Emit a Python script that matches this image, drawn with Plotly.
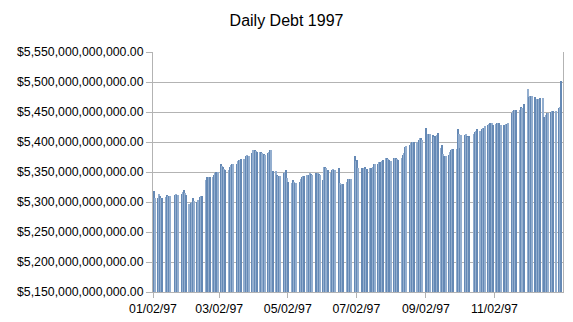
import pandas as pd
import plotly.graph_objects as go

# Daily total public debt, 1997 (billions of dollars), business days only
jan = [5318, 5307, 5307, 5314, 5310, 5307, 5307, 5309, 5312, 5310, 5310, 5310,
       5312, 5313, 5312, 5312, 5313, 5316, 5320, 5315, 5312]
feb = [5297, 5298, 5300, 5306, 5301, 5300, 5304, 5308, 5310, 5310, 5337, 5341,
       5341, 5341, 5342, 5345, 5349, 5350, 5350]
mar = [5363, 5360, 5358, 5355, 5354, 5354, 5358, 5362, 5363, 5363, 5364, 5368,
       5370, 5370, 5371, 5371, 5377, 5378, 5377, 5377, 5381]
apr = [5386, 5386, 5385, 5383, 5384, 5384, 5381, 5380, 5379, 5382, 5384, 5387,
       5386, 5352, 5352, 5345, 5343, 5344, 5344, 5348, 5350, 5353]
may = [5340, 5333, 5331, 5337, 5334, 5331, 5331, 5334, 5338, 5341, 5343, 5344,
       5345, 5345, 5348, 5347, 5345, 5348, 5349, 5347, 5345]
jun = [5337, 5358, 5358, 5356, 5354, 5349, 5353, 5355, 5354, 5354, 5356, 5331,
       5329, 5330, 5330, 5334, 5338, 5339, 5338, 5338, 5377]
jul = [5369, 5370, 5356, 5356, 5356, 5359, 5355, 5355, 5356, 5357, 5359, 5363,
       5363, 5363, 5366, 5367, 5369, 5370, 5373, 5373, 5372, 5370]
aug = [5369, 5373, 5374, 5373, 5371, 5370, 5373, 5378, 5381, 5392, 5394, 5395,
       5398, 5400, 5400, 5400, 5400, 5404, 5406, 5406, 5403]
sep = [5424, 5414, 5414, 5413, 5412, 5409, 5410, 5412, 5415, 5390, 5395, 5380,
       5376, 5377, 5379, 5383, 5387, 5388, 5388, 5388, 5421]
octo = [5413, 5390, 5412, 5412, 5413, 5410, 5409, 5410, 5414, 5417, 5419, 5421,
        5419, 5421, 5423, 5424, 5427, 5428, 5430, 5431, 5431, 5428]
nov = [5430, 5432, 5432, 5431, 5429, 5428, 5430, 5430, 5431, 5448, 5452, 5453,
       5453, 5453, 5453, 5458, 5456, 5463]
dec = [5489, 5475, 5477, 5477, 5477, 5475, 5472, 5472, 5472, 5474, 5474, 5442,
       5445, 5448, 5448, 5450, 5452, 5452, 5452, 5456, 5458, 5502]

months = [jan, feb, mar, apr, may, jun, jul, aug, sep, octo, nov, dec]

holidays = ["1997-01-20", "1997-02-17", "1997-05-26", "1997-07-04", "1997-09-01",
            "1997-10-13", "1997-11-11", "1997-11-27", "1997-12-25"]

tick_dates = ["1997-01-02", "1997-03-02", "1997-05-02", "1997-07-02",
              "1997-09-02", "1997-11-02"]
tick_labels = ["01/02/97", "03/02/97", "05/02/97", "07/02/97", "09/02/97", "11/02/97"]

days = pd.bdate_range("1997-01-02", "1997-12-31", freq="C", holidays=holidays)

x, y = [], []
for m, vals in enumerate(months, start=1):
    md = [d for d in days if d.month == m]
    for d, v in zip(md, vals):
        x.append(d)
        y.append(v * 1e9)

shades = ["#6589b5", "#93aecf"]
colors = [shades[i % 2] for i in range(len(x))]

fig = go.Figure(go.Bar(
    x=x, y=y, width=86400000, offset=0,
    marker=dict(color=colors, line=dict(width=0)),
))

grid = "#b3b3b3"
fig.update_layout(
    width=573, height=322,
    margin=dict(l=153, r=10, t=52, b=30, autoexpand=False),
    paper_bgcolor="white", plot_bgcolor="white",
    font=dict(family="Liberation Sans, Arial, sans-serif", size=12.3, color="#000000"),
    title=dict(text="Daily Debt 1997", x=0.5, xref="container", xanchor="center",
               y=1 - 20 / 322, yref="container", yanchor="middle",
               font=dict(size=16, color="#000000")),
    showlegend=False,
    bargap=0,
)
fig.update_xaxes(
    type="date", range=["1997-01-02", "1998-01-02"],
    tickvals=tick_dates, ticktext=tick_labels,
    ticks="outside", ticklen=5, tickcolor=grid, automargin=False,
    showline=True, linecolor=grid, showgrid=False, zeroline=False,
)
fig.update_yaxes(
    range=[5.15e12, 5.55e12], tick0=5.15e12, dtick=5e10, tickformat="$,.2f",
    ticks="outside", ticklen=6, tickcolor=grid, automargin=False,
    showline=True, linecolor=grid, mirror=True,
    showgrid=True, gridcolor=grid, zeroline=False,
)

fig.write_html("out.html")
